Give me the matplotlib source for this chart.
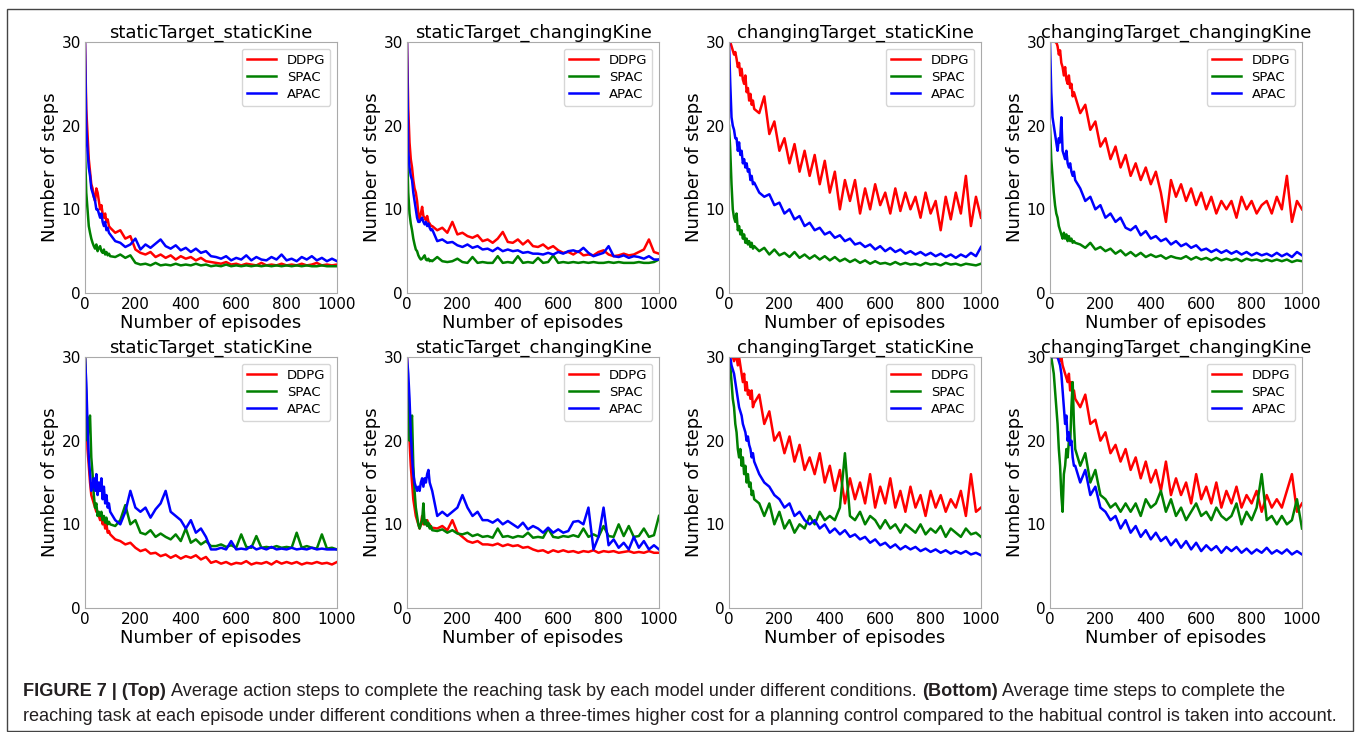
import matplotlib
matplotlib.use("Agg")
import matplotlib.pyplot as plt
from matplotlib.patches import Rectangle


episodes = list(range(0, 101, 5)) + list(range(120, 1001, 20))

titles = ["staticTarget_staticKine", "staticTarget_changingKine",
          "changingTarget_staticKine", "changingTarget_changingKine"]
models = ["DDPG", "SPAC", "APAC"]

# ---- top row: average action steps ----
ddpg_top_ss = [30, 22, 19, 16, 14.5, 13, 12.5, 11.5, 11, 12.5, 12, 11, 10, 10.5, 9.5, 9, 9.5, 8.5, 8.8, 8, 7.8,
               7.2, 7.5, 6.5, 6.8, 5.2, 4.8, 4.6, 4.9, 4.3, 4.6, 4.2, 4.5, 4.0, 4.4, 4.1,
               4.3, 3.9, 4.2, 3.8, 3.7, 3.6, 3.5, 3.7, 3.4, 3.5, 3.3, 3.5, 3.4, 3.3, 3.6,
               3.3, 3.4, 3.3, 3.5, 3.3, 3.4, 3.3, 3.5, 3.3, 3.4, 3.6, 3.3, 3.4, 3.3, 3.4]
spac_top_ss = [17, 12, 10, 8, 7.2, 6.5, 6, 5.6, 5.3, 5.8, 5, 5.4, 5.6, 5.0, 4.8, 5.2, 4.6, 4.9, 4.5, 4.7, 4.4,
               4.3, 4.6, 4.2, 4.5, 3.6, 3.4, 3.5, 3.3, 3.6, 3.3, 3.4, 3.3, 3.5, 3.3, 3.4,
               3.3, 3.5, 3.3, 3.4, 3.2, 3.3, 3.2, 3.4, 3.2, 3.3, 3.2, 3.3, 3.2, 3.3, 3.2,
               3.3, 3.2, 3.3, 3.2, 3.3, 3.2, 3.3, 3.2, 3.3, 3.2, 3.2, 3.3, 3.2, 3.2, 3.2]
apac_top_ss = [30, 20, 17, 15, 14, 12.5, 12, 11.5, 11, 10, 10, 9.5, 9, 9.5, 8.5, 8, 8.5, 7.5, 7.8, 7.2, 7,
               6.2, 6.0, 5.5, 5.8, 6.5, 5.2, 5.8, 5.4, 5.9, 6.4, 5.6, 5.3, 5.7, 5.1, 5.4,
               4.9, 5.3, 4.8, 5.0, 4.4, 4.3, 4.1, 4.4, 3.9, 4.2, 4.0, 4.5, 3.9, 4.3, 4.0,
               3.9, 4.3, 4.0, 4.6, 3.9, 4.1, 3.8, 4.3, 4.0, 4.4, 3.9, 4.2, 3.8, 4.1, 3.8]

ddpg_top_sc = [30, 22, 18, 16, 15, 13.5, 12.5, 12, 11, 9.5, 8.8, 9.5, 10.3, 9.2, 9, 8.7, 9.2, 8.5, 8.3, 8, 8,
               7.5, 7.8, 7.2, 8.5, 7.0, 7.2, 6.8, 6.6, 6.9, 6.2, 6.4, 6.0, 6.5, 7.3, 6.1,
               6.0, 6.4, 5.8, 6.3, 5.6, 5.5, 5.8, 5.3, 5.6, 5.1, 4.8, 4.9, 4.6, 5.0, 4.5,
               4.6, 4.5, 4.9, 5.1, 4.6, 4.4, 4.5, 4.7, 4.5, 4.6, 4.9, 5.2, 6.4, 4.9, 4.7]
spac_top_sc = [17, 12, 9.5, 8.3, 7.5, 6.5, 5.8, 5.2, 5, 4.5, 4.2, 4.0, 4.1, 4.3, 4.5, 4.0, 3.9, 4.1, 3.8, 3.9, 3.8,
               4.3, 3.8, 3.7, 3.8, 4.1, 3.7, 3.6, 4.3, 3.6, 3.7, 3.6, 3.6, 4.4, 3.6, 3.7,
               3.6, 4.4, 3.6, 3.7, 3.6, 4.2, 3.6, 3.7, 4.5, 3.6, 3.7, 3.6, 3.7, 3.6, 3.7,
               3.6, 3.7, 3.6, 3.6, 3.7, 3.6, 3.7, 3.6, 3.6, 3.6, 3.7, 3.6, 3.6, 3.7, 4.0]
apac_top_sc = [30, 17, 15, 14, 13.5, 12, 11, 10, 9, 8.5, 8.5, 8.8, 9, 8.5, 8.2, 8.5, 8, 8.3, 7.8, 7.5, 7.6,
               6.2, 6.4, 6.0, 6.1, 5.7, 5.5, 5.8, 5.4, 5.6, 5.2, 5.3, 5.0, 5.4, 5.0, 5.2,
               5.0, 5.1, 4.8, 4.9, 4.7, 4.7, 4.6, 4.8, 4.6, 4.9, 4.7, 5.0, 5.1, 4.9, 5.4,
               4.8, 4.4, 4.6, 4.8, 5.6, 4.4, 4.3, 4.5, 4.2, 4.4, 4.3, 4.1, 4.4, 4.0, 4.0]

ddpg_top_cs = [30, 30, 29.5, 29, 28.5, 28.8, 28, 27, 27.5, 26, 26.8, 25.5, 25, 26, 24, 24.5, 23, 23.8, 22.5, 23, 22,
               21.5, 23.5, 19.0, 20.5, 17.0, 18.5, 15.5, 17.8, 14.5, 17.0, 14.0, 16.5, 13.0, 15.8, 12.0,
               14.5, 10.0, 13.5, 11.0, 13.5, 9.5, 12.5, 10.0, 13.0, 10.5, 12.0, 9.5, 12.5, 9.8, 12.0,
               10.0, 11.5, 9.0, 12.0, 9.5, 11.0, 7.5, 11.5, 8.8, 12.0, 9.5, 14.0, 8.0, 11.5, 9.0]
spac_top_cs = [20, 17, 13, 10, 9, 8.5, 9.5, 7.5, 8, 7, 7.5, 6.5, 7, 6, 6.5, 5.8, 6.2, 5.5, 6, 5.3, 5.6,
               5.0, 5.4, 4.6, 5.2, 4.5, 4.8, 4.3, 4.9, 4.2, 4.6, 4.1, 4.5, 4.0, 4.4, 3.9,
               4.3, 3.8, 4.1, 3.7, 4.0, 3.6, 3.9, 3.5, 3.8, 3.5, 3.6, 3.4, 3.7, 3.4, 3.6,
               3.4, 3.5, 3.3, 3.6, 3.4, 3.5, 3.3, 3.6, 3.4, 3.5, 3.3, 3.5, 3.4, 3.3, 3.5]
apac_top_cs = [30, 25, 21, 20, 19.5, 18.5, 18.5, 17, 18, 16.5, 17, 15.5, 16, 15, 15.5, 14.5, 14.8, 13.5, 14, 13, 13.2,
               12.0, 11.5, 11.8, 10.5, 10.8, 9.5, 10.0, 8.8, 9.2, 8.0, 8.4, 7.5, 7.8, 7.0, 7.3,
               6.6, 6.9, 6.2, 6.5, 5.8, 6.0, 5.5, 5.8, 5.2, 5.6, 5.0, 5.4, 4.9, 5.2, 4.7,
               5.0, 4.6, 4.9, 4.5, 4.8, 4.4, 4.7, 4.3, 4.6, 4.2, 4.6, 4.3, 4.8, 4.4, 5.5]

ddpg_top_cc = [30, 31, 31, 30.5, 30, 30, 29.5, 28.5, 29, 27.5, 27, 26, 27, 25.5, 25, 26, 24.5, 25, 23.5, 24, 23.5,
               21.5, 22.5, 19.5, 20.5, 17.5, 18.5, 16.0, 17.5, 15.0, 16.5, 14.0, 15.5, 13.5, 15.0, 13.0,
               14.5, 12.0, 8.5, 13.5, 11.5, 13.0, 11.0, 12.5, 10.5, 12.0, 10.0, 11.5, 9.5, 11.0, 10.0,
               11.0, 9.0, 11.5, 10.0, 11.0, 9.5, 10.5, 11.0, 9.5, 11.5, 10.0, 14.0, 8.5, 11.0, 10.0]
spac_top_cc = [20, 16, 14, 12, 10.5, 9.5, 9, 8, 7.5, 7, 6.5, 7.2, 6.5, 7, 6.2, 6.8, 6.2, 6.5, 6, 6.2, 6,
               5.8, 5.4, 6.0, 5.2, 5.5, 5.0, 5.3, 4.7, 5.1, 4.5, 4.9, 4.4, 4.8, 4.3, 4.6,
               4.3, 4.5, 4.1, 4.4, 4.2, 4.1, 4.4, 4.0, 4.3, 4.0, 4.2, 3.9, 4.2, 3.9, 4.1,
               3.9, 4.1, 3.8, 4.1, 3.9, 4.0, 3.8, 4.0, 3.8, 4.0, 3.8, 4.0, 3.7, 3.9, 3.8]
apac_top_cc = [30, 24, 21, 20, 19, 18, 17, 18.5, 18, 21, 17, 16.5, 16, 17, 15.5, 15, 15.5, 14.5, 14, 14.5, 13.5,
               12.5, 11.0, 11.5, 10.0, 10.5, 9.0, 9.5, 8.5, 9.0, 7.8, 7.5, 8.0, 6.9, 7.4, 6.5,
               6.8, 6.2, 6.5, 5.8, 6.2, 5.6, 5.9, 5.4, 5.7, 5.1, 5.3, 4.9, 5.2, 4.8, 5.1,
               4.7, 5.0, 4.6, 4.9, 4.5, 4.8, 4.5, 4.7, 4.4, 4.8, 4.4, 4.7, 4.3, 4.9, 4.5]

# ---- bottom row: average time steps with planning cost ----
ddpg_bot_ss = [30, 24, 19, 17, 15, 13.5, 13, 12.5, 12, 11.5, 11.5, 11, 10.5, 11, 10, 10.5, 9.5, 10, 9, 9.2, 8.8,
               8.2, 8.0, 7.6, 7.8, 7.2, 6.8, 7.0, 6.5, 6.6, 6.2, 6.4, 6.0, 6.3, 5.9, 6.2,
               6.0, 6.3, 5.8, 6.1, 5.4, 5.6, 5.3, 5.5, 5.2, 5.4, 5.3, 5.6, 5.2, 5.4, 5.3,
               5.5, 5.2, 5.6, 5.3, 5.5, 5.3, 5.5, 5.2, 5.4, 5.3, 5.5, 5.3, 5.4, 5.2, 5.5]
spac_bot_ss = [30, 25, 20, 22.5, 23, 18, 16, 13.5, 12, 12.5, 11, 11.5, 11, 11.5, 10.5, 11, 10.2, 10.8, 10, 10.3, 10,
               9.8, 10.5, 12.3, 10.0, 10.5, 9.0, 8.8, 9.3, 8.5, 8.9, 8.5, 8.2, 8.8, 8.0, 9.5,
               7.8, 8.2, 7.6, 8.0, 7.4, 7.4, 7.6, 7.3, 7.5, 7.2, 8.8, 7.3, 7.2, 8.6, 7.2,
               7.3, 7.2, 7.4, 7.2, 7.3, 7.2, 9.0, 7.2, 7.4, 7.2, 7.1, 8.8, 7.1, 7.2, 7.0]
apac_bot_ss = [30, 27, 22, 18, 16, 14, 14.5, 15.5, 14, 16, 13.5, 15, 14, 15.5, 13, 14.5, 12.5, 13.5, 12, 12.5, 11.5,
               10.5, 10.0, 11.5, 14.0, 12.0, 11.5, 12.0, 10.8, 11.8, 12.5, 14.0, 11.5, 11.0, 10.5, 9.5,
               10.5, 9.0, 9.5, 8.5, 7.0, 7.0, 7.2, 7.0, 8.0, 7.0, 7.1, 7.0, 7.4, 7.0, 7.2,
               7.0, 7.3, 7.0, 7.1, 7.0, 7.2, 7.0, 7.1, 7.0, 7.2, 7.0, 7.1, 7.0, 7.0, 7.0]

ddpg_bot_sc = [30, 24, 20, 17, 15, 13, 12, 11, 10.5, 10, 9.5, 10, 11, 10, 10.5, 10, 10.5, 9.8, 10, 9.5, 9.6,
               9.5, 9.8, 9.3, 10.5, 9.0, 8.5, 8.0, 7.8, 8.0, 7.6, 7.6, 7.5, 7.7, 7.4, 7.6,
               7.4, 7.5, 7.2, 7.3, 7.0, 6.8, 6.9, 6.6, 6.9, 6.7, 6.9, 6.7, 6.8, 6.6, 6.8,
               6.7, 6.9, 6.6, 6.8, 6.7, 6.8, 6.6, 6.7, 6.8, 6.6, 6.7, 6.6, 6.8, 6.6, 6.6]
spac_bot_sc = [28, 24, 20, 22, 23, 17, 14, 12, 11, 10, 9.5, 10, 10.5, 12.5, 10, 10.5, 9.8, 10.2, 9.5, 9.8, 9.3,
               9.2, 9.4, 9.0, 9.3, 8.9, 8.8, 9.0, 8.6, 8.8, 8.5, 8.6, 8.4, 9.5, 8.5, 8.6,
               8.4, 8.6, 8.5, 9.0, 8.4, 8.5, 8.4, 9.5, 8.5, 8.4, 8.6, 8.5, 8.7, 8.5, 9.5,
               8.5, 8.8, 8.5, 9.8, 8.6, 8.5, 10.0, 8.6, 9.8, 8.5, 8.6, 9.5, 8.5, 8.7, 11.0]
apac_bot_sc = [30, 28, 25, 21, 18, 16, 15, 14.5, 14, 14.5, 14, 15, 15.5, 14.5, 15.5, 15, 16, 16.5, 15, 14.5, 14,
               11.0, 11.5, 11.0, 11.5, 12.0, 13.5, 12.0, 11.0, 11.5, 10.5, 10.5, 10.2, 10.6, 10.0, 10.4,
               10.0, 9.6, 10.2, 9.4, 9.8, 9.5, 9.0, 9.6, 9.0, 9.4, 9.0, 9.2, 10.3, 10.4, 10.0,
               12.0, 7.0, 8.5, 12.0, 7.5, 8.2, 7.2, 7.8, 7.0, 8.5, 7.2, 8.0, 7.0, 7.5, 7.0]

ddpg_bot_cs = [30, 30, 30, 30, 29.5, 30, 30, 29, 30, 29, 28, 27, 28, 26, 27, 25.5, 26, 25, 26, 24, 24.5,
               25.5, 22.0, 23.5, 20.0, 21.0, 18.5, 20.5, 17.5, 19.5, 16.5, 18.0, 16.0, 18.5, 15.0, 17.0,
               14.0, 16.5, 12.5, 15.5, 13.0, 15.0, 12.5, 16.0, 12.0, 14.5, 12.5, 15.5, 12.0, 14.0, 11.5,
               14.5, 12.0, 13.5, 11.0, 14.0, 12.0, 13.5, 11.5, 13.0, 12.0, 14.0, 11.0, 16.0, 11.5, 12.0]
spac_bot_cs = [30, 29, 27, 25, 24, 22, 21, 19, 18, 19, 17, 18, 16, 17, 15, 16, 14.5, 15, 13.5, 14, 13,
               12.5, 11.0, 12.5, 10.0, 11.5, 9.5, 10.5, 9.0, 10.0, 9.5, 11.0, 10.0, 11.5, 10.5, 11.0,
               10.5, 12.0, 18.5, 11.0, 10.5, 11.5, 10.0, 11.0, 10.5, 9.5, 10.5, 9.5, 10.0, 9.0, 10.0,
               9.5, 9.0, 10.0, 8.8, 9.5, 9.0, 9.8, 8.5, 9.5, 9.0, 8.5, 9.5, 8.8, 9.0, 8.5]
apac_bot_cs = [30, 30, 29, 28.5, 28, 27, 26, 25, 24, 23.5, 23, 22, 21.5, 21, 20, 20.5, 19.5, 19, 18, 18.5, 17.5,
               16.0, 15.0, 14.5, 13.5, 13.0, 12.0, 12.5, 11.0, 11.5, 10.5, 10.0, 10.5, 9.5, 10.0, 9.0,
               9.5, 8.8, 9.3, 8.5, 8.8, 8.2, 8.5, 7.8, 8.2, 7.5, 7.8, 7.2, 7.6, 7.0, 7.4,
               7.0, 7.3, 6.8, 7.1, 6.7, 7.0, 6.6, 6.9, 6.5, 6.8, 6.5, 6.8, 6.4, 6.6, 6.3]

ddpg_bot_cc = [30, 30, 30, 30, 30, 30, 30, 30, 29.5, 30, 29, 28.5, 28, 27.5, 27, 28, 26, 27, 25.5, 26, 25,
               24.0, 25.5, 22.0, 22.5, 20.0, 21.0, 18.5, 19.5, 17.5, 19.0, 16.5, 18.0, 15.5, 17.5, 15.0,
               16.5, 14.0, 17.5, 13.5, 15.5, 13.5, 15.0, 12.5, 16.0, 13.0, 14.5, 12.5, 15.0, 12.0, 14.0,
               12.5, 14.5, 12.0, 13.5, 12.5, 14.0, 11.5, 13.5, 12.0, 13.0, 12.0, 14.0, 16.0, 11.5, 12.5]
spac_bot_cc = [30, 30, 29, 28, 26, 24, 22, 19, 17, 13.5, 11.5, 16, 17, 19, 18, 20, 19.5, 24, 27, 22, 19,
               17.0, 18.5, 15.0, 16.5, 13.5, 13.0, 12.0, 12.5, 11.5, 12.5, 11.5, 12.5, 11.0, 13.0, 12.0,
               12.5, 14.0, 11.5, 13.0, 11.0, 12.0, 10.5, 11.5, 12.5, 11.0, 11.5, 10.5, 12.0, 11.0, 10.5,
               11.0, 12.5, 10.0, 11.5, 10.5, 12.0, 16.0, 10.5, 11.0, 10.0, 11.0, 10.0, 10.5, 13.0, 9.5]
apac_bot_cc = [30, 30, 30, 30, 30, 30, 30, 29.5, 29, 28, 26, 24, 22, 23, 20, 21, 19.5, 20, 18, 17, 17,
               15.0, 16.5, 13.5, 14.5, 12.0, 11.5, 10.5, 11.0, 9.5, 10.5, 9.0, 9.8, 8.5, 9.3, 8.2,
               9.0, 8.0, 8.5, 7.5, 8.2, 7.2, 8.0, 7.0, 7.8, 6.8, 7.5, 6.9, 7.4, 6.6, 7.3,
               6.8, 7.3, 6.6, 7.1, 6.5, 7.0, 6.6, 7.2, 6.5, 6.9, 6.5, 7.0, 6.4, 6.8, 6.4]

panels = [
    (ddpg_top_ss, spac_top_ss, apac_top_ss),
    (ddpg_top_sc, spac_top_sc, apac_top_sc),
    (ddpg_top_cs, spac_top_cs, apac_top_cs),
    (ddpg_top_cc, spac_top_cc, apac_top_cc),
    (ddpg_bot_ss, spac_bot_ss, apac_bot_ss),
    (ddpg_bot_sc, spac_bot_sc, apac_bot_sc),
    (ddpg_bot_cs, spac_bot_cs, apac_bot_cs),
    (ddpg_bot_cc, spac_bot_cc, apac_bot_cc),
]

caption_1 = [("FIGURE 7 | (Top)", True),
             ("Average action steps to complete the reaching task by each model under different conditions.", False),
             ("(Bottom)", True),
             ("Average time steps to complete the", False)]
caption_2 = [("reaching task at each episode under different conditions when a three-times higher cost "
              "for a planning control compared to the habitual control is taken into account.", False)]


def main():
    W, H = 1357, 732
    fig = plt.figure(figsize=(W / 100, H / 100), dpi=100)

    colors = ["#ff0000", "#008000", "#0000ff"]
    lefts = [85, 407, 729, 1050]
    tops = [42, 357]

    for k, series in enumerate(panels):
        row, col = divmod(k, 4)
        ax = fig.add_axes([lefts[col] / W, 1 - (tops[row] + 251) / H, 252 / W, 251 / H])
        for name, vals, c in zip(models, series, colors):
            ax.plot(episodes, vals, color=c, lw=1.8, label=name)
        ax.set_xlim(0, 1000)
        ax.set_ylim(0, 30)
        ax.set_xticks(range(0, 1001, 200))
        ax.set_yticks([0, 10, 20, 30])
        ax.tick_params(length=0, labelsize=11, pad=3)
        for sp in ax.spines.values():
            sp.set_color("#aaaaaa")
        # the long title runs into the "30" label, as in the original
        ax.set_title(titles[col], fontsize=13, pad=1)
        ax.set_xlabel("Number of episodes", fontsize=13, labelpad=1)
        ax.set_ylabel("Number of steps", fontsize=13, labelpad=2)
        ax.legend(loc="upper right", fontsize=9.5, labelspacing=0.3, handlelength=2.2)

    # caption below the panels
    cap_size = 13.05
    gap = 0.278 * cap_size * 100 / 72
    r = fig.canvas.get_renderer()
    for parts, base in [(caption_1, 696), (caption_2, 721)]:
        x = 23
        for s, bold in parts:
            t = fig.text(x / W, 1 - base / H, s, fontsize=cap_size, family="Liberation Sans",
                         fontweight="bold" if bold else "normal", color="#231f20", va="baseline")
            x += t.get_window_extent(renderer=r).width + gap

    # frame round the whole figure
    fig.add_artist(Rectangle((7 / W, 1 - 731 / H), 1346 / W, 722 / H, transform=fig.transFigure,
                             fill=False, edgecolor="#444444", lw=1))

    fig.savefig("out.png", dpi=100)


if __name__ == "__main__":
    main()
